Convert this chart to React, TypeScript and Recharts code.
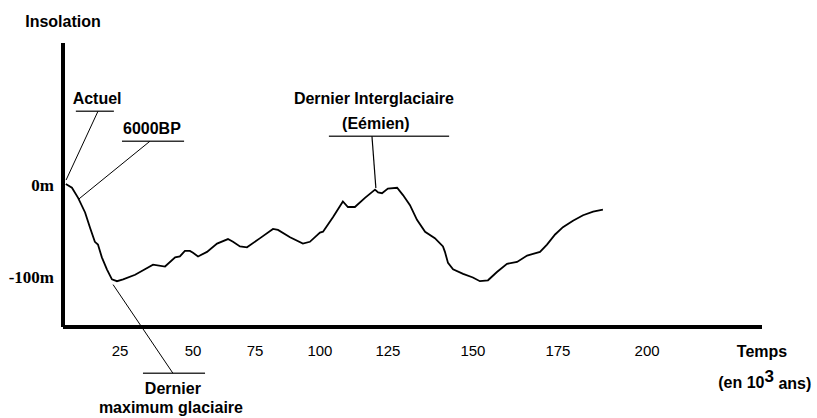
// Sea level curve (insolation) over the last 200 000 years

import { LineChart, Line, XAxis, YAxis, ReferenceLine, ReferenceDot } from 'recharts';

// time along the drawn axis (10^3 years, axis units) and level in metres
const times = [
  1, 3.2, 5.4, 7.9, 9.7, 11.4, 12.5, 13.9, 15.7, 17.5, 19.3, 21.5, 25.8, 29.3, 32.2, 36.5,
  40.1, 41.8, 43.6, 45.4, 46.5, 48.3, 51.5, 55.1, 59.0, 60.8, 63.3, 65.8, 70.5, 75.1, 76.9,
  81.2, 85.8, 88.3, 91.9, 93.0, 96.6, 100.1, 101.9, 104.4, 108.0, 111.6, 112.7, 114.1, 116.2,
  119.5, 121.6, 124.1, 126.6, 129.5, 133.0, 135.9, 136.6, 137.7, 139.5, 143.1, 146.6, 149.1,
  152.0, 155.2, 158.8, 162.4, 166.0, 170.6, 173.1, 176.0, 178.8, 182.4, 186.0, 189.6, 193.1,
];
const levels = [
  1, -3, -14, -30, -47, -62, -65, -79, -92, -103, -105, -103, -98, -92, -87, -89,
  -79, -78, -72, -72, -74, -78, -73, -64, -59, -62, -67, -68, -58, -48, -49,
  -57, -64, -62, -52, -51, -35, -18, -24, -24, -14, -5, -8, -9, -4,
  -3, -11, -22, -38, -51, -58, -67, -73, -85, -92, -97, -101, -105,
  -104, -95, -86, -84, -77, -73, -65, -54, -46, -39, -33, -29, -27,
];

// tick labels as drawn (the original spacing is uneven)
const xTickPos = [20.4, 46.5, 68.7, 91.9, 116.2, 146.6, 177.0, 208.9];
const xTickText = ['25', '50', '75', '100', '125', '150', '175', '200'];
const yTicks = [0, -100];

const data = times.map((t, i) => ({ t, m: levels[i] }));

const sans = 'Liberation Sans, Arial, sans-serif';

function textLabel(lines: string[], opts: { size?: number; weight?: string | number; gap?: number } = {}) {
  const size = opts.size ?? 16;
  const gap = opts.gap ?? 19;
  return (props: any) => {
    const vb = props.viewBox || {};
    const cx = (vb.x ?? 0) + (vb.width ?? 0) / 2;
    const cy = (vb.y ?? 0) + (vb.height ?? 0) / 2;
    return (
      <g>
        {lines.map((s, i) => (
          <text
            key={i}
            x={cx}
            y={cy + i * gap}
            textAnchor="middle"
            dominantBaseline="central"
            fontFamily={sans}
            fontSize={size}
            fontWeight={opts.weight ?? 'bold'}
            fill="#000"
          >
            {s}
          </text>
        ))}
      </g>
    );
  };
}

function unitLabel(props: any) {
  const vb = props.viewBox || {};
  const cx = (vb.x ?? 0) + (vb.width ?? 0) / 2;
  const cy = (vb.y ?? 0) + (vb.height ?? 0) / 2;
  return (
    <text x={cx} y={cy} textAnchor="middle" dominantBaseline="central" fontFamily={sans} fontSize={16} fontWeight="bold" fill="#000">
      (en 10
      <tspan dy={-7} fontSize={17}>3</tspan>
      <tspan dy={7}>{'  ans)'}</tspan>
    </text>
  );
}

export default function App() {
  return (
    <div style={{ position: 'absolute', left: 0, top: 0, width: 817, height: 418, background: '#fff' }}>
      <LineChart width={817} height={418} data={data} margin={{ top: 43, right: 55, bottom: 61, left: 0 }}>
        <XAxis
          dataKey="t"
          type="number"
          domain={[0, 250]}
          ticks={xTickPos}
          interval={0}
          tickFormatter={(_v: number, i: number) => xTickText[i]}
          height={30}
          axisLine={{ stroke: '#000', strokeWidth: 4 }}
          tickLine={{ stroke: 'none' }}
          tickSize={6}
          tickMargin={12}
          tick={{ fill: '#000', fontSize: 15, fontFamily: sans }}
        />
        <YAxis
          type="number"
          domain={[-155, 155]}
          ticks={yTicks}
          interval={0}
          tickFormatter={(v: number) => `${v}m`}
          width={63}
          axisLine={{ stroke: '#000', strokeWidth: 4 }}
          tickLine={{ stroke: 'none' }}
          tickSize={6}
          tickMargin={3}
          tick={{ fill: '#000', fontSize: 17, fontFamily: 'Liberation Serif, serif', fontWeight: 'bold' }}
        />

        {/* leader lines and underlines */}
        <ReferenceLine segment={[{ x: 4.6, y: 80.4 }, { x: 18.2, y: 80.4 }]} stroke="#333" strokeWidth={1.5} ifOverflow="visible" />
        <ReferenceLine segment={[{ x: 12.5, y: 80.4 }, { x: 1.1, y: 5.4 }]} stroke="#000" strokeWidth={1} ifOverflow="visible" />
        <ReferenceLine segment={[{ x: 21.1, y: 47.8 }, { x: 43.3, y: 47.8 }]} stroke="#333" strokeWidth={1.5} ifOverflow="visible" />
        <ReferenceLine segment={[{ x: 31.1, y: 47.8 }, { x: 5.7, y: -15.2 }]} stroke="#000" strokeWidth={1} ifOverflow="visible" />
        <ReferenceLine segment={[{ x: 95.1, y: 53.3 }, { x: 138.1, y: 53.3 }]} stroke="#333" strokeWidth={1.5} ifOverflow="visible" />
        <ReferenceLine segment={[{ x: 110.5, y: 53.3 }, { x: 111.9, y: -3.3 }]} stroke="#000" strokeWidth={1.2} ifOverflow="visible" />
        <ReferenceLine segment={[{ x: 28.6, y: -205.4 }, { x: 50.8, y: -205.4 }]} stroke="#333" strokeWidth={1.5} ifOverflow="visible" />
        <ReferenceLine segment={[{ x: 17.9, y: -108.7 }, { x: 39.3, y: -205.4 }]} stroke="#000" strokeWidth={1} ifOverflow="visible" />

        <Line type="linear" dataKey="m" stroke="#000" strokeWidth={1.8} dot={false} isAnimationActive={false} />

        {/* texts */}
        <ReferenceDot x={0} y={179} r={1} fill="none" stroke="none" ifOverflow="visible" label={textLabel(['Insolation'])} />
        <ReferenceDot x={12.2} y={94.6} r={1} fill="none" stroke="none" ifOverflow="visible" label={textLabel(['Actuel'])} />
        <ReferenceDot x={31.8} y={62} r={1} fill="none" stroke="none" ifOverflow="visible" label={textLabel(['6000BP'])} />
        <ReferenceDot x={111.2} y={94.6} r={1} fill="none" stroke="none" ifOverflow="visible" label={textLabel(['Dernier Interglaciaire'])} />
        <ReferenceDot x={111.9} y={67.4} r={1} fill="none" stroke="none" ifOverflow="visible" label={textLabel(['(Eémien)'])} />
        <ReferenceDot x={39.3} y={-221.7} r={1} fill="none" stroke="none" ifOverflow="visible" label={textLabel(['Dernier'])} />
        <ReferenceDot x={38.6} y={-242.4} r={1} fill="none" stroke="none" ifOverflow="visible" label={textLabel(['maximum glaciaire'])} />
        <ReferenceDot x={250} y={-181.5} r={1} fill="none" stroke="none" ifOverflow="visible" label={textLabel(['Temps'])} />
        <ReferenceDot x={251} y={-216} r={1} fill="none" stroke="none" ifOverflow="visible" label={unitLabel} />
      </LineChart>
    </div>
  );
}
